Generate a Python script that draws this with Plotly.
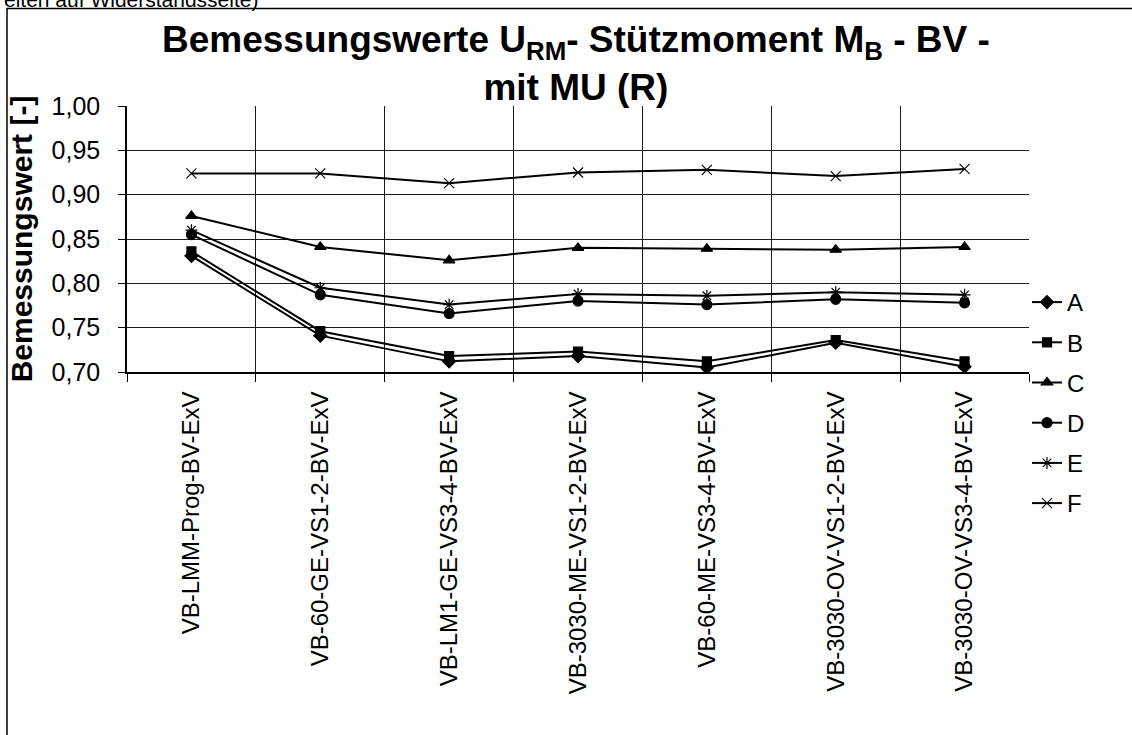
import plotly.graph_objects as go

# Load cases (x-axis categories)
categories = [
    "VB-LMM-Prog-BV-ExV",
    "VB-60-GE-VS1-2-BV-ExV",
    "VB-LM1-GE-VS3-4-BV-ExV",
    "VB-3030-ME-VS1-2-BV-ExV",
    "VB-60-ME-VS3-4-BV-ExV",
    "VB-3030-OV-VS1-2-BV-ExV",
    "VB-3030-OV-VS3-4-BV-ExV",
]

# Design values per series
series_A = [0.831, 0.741, 0.712, 0.718, 0.705, 0.733, 0.706]
series_B = [0.836, 0.746, 0.718, 0.723, 0.712, 0.736, 0.712]
series_C = [0.876, 0.841, 0.826, 0.840, 0.839, 0.838, 0.841]
series_D = [0.855, 0.787, 0.766, 0.780, 0.776, 0.782, 0.778]
series_E = [0.860, 0.795, 0.776, 0.788, 0.786, 0.790, 0.787]
series_F = [0.924, 0.924, 0.913, 0.925, 0.928, 0.921, 0.929]

series_names = ["A", "B", "C", "D", "E", "F"]
series_values = [series_A, series_B, series_C, series_D, series_E, series_F]
series_symbols = ["diamond", "square", "triangle-up", "circle", "asterisk-open", "x-thin-open"]
series_sizes = [10, 9, 10, 10, 10, 10]

y_ticks = [0.70, 0.75, 0.80, 0.85, 0.90, 0.95, 1.00]

fig = go.Figure()
for name, vals, sym, sz in zip(series_names, series_values, series_symbols, series_sizes):
    fig.add_trace(go.Scatter(
        x=categories, y=vals, name=name, mode="lines+markers",
        legendgroup=name,
        line=dict(color="black", width=2),
        marker=dict(symbol=sym, size=sz, color="black",
                    line=dict(color="black", width=1.2)),
    ))

W, H = 1132, 735
L, R, T, B = 127, 1029, 106, 372
pw, ph = R - L, B - T


def px_x(x):
    return (x - L) / pw


def px_y(y):
    return (B - y) / ph


fig.update_layout(
    width=W, height=H,
    margin=dict(l=L, r=W - R, t=T, b=H - B),
    paper_bgcolor="white", plot_bgcolor="white",
    separators=",.",
    font=dict(family="Arial, Liberation Sans, sans-serif", color="black"),
    xaxis=dict(
        type="category", range=[-0.5, 6.5],
        tickson="boundaries", ticks="outside", ticklen=8, tickcolor="black", tickwidth=1,
        tickangle=-90, tickfont=dict(size=24), ticklabelstandoff=8,
        showgrid=True, gridcolor="#1a1a1a", gridwidth=1,
        showline=True, linecolor="black", linewidth=2,
    ),
    yaxis=dict(
        range=[0.70, 1.00], tickvals=y_ticks, tickformat=".2f",
        ticks="outside", ticklen=7, tickcolor="black", tickwidth=1,
        tickfont=dict(size=25), ticklabelstandoff=13,
        showgrid=True, gridcolor="#1a1a1a", gridwidth=1,
        showline=True, linecolor="black", linewidth=1.5,
        title=dict(text="<b>Bemessungswert [-]</b>", font=dict(size=30), standoff=10),
    ),
    legend=dict(
        x=px_x(1027), y=px_y(280), xanchor="left", yanchor="top",
        font=dict(size=24), tracegroupgap=6, itemwidth=30,
        bgcolor="rgba(0,0,0,0)",
    ),
    showlegend=True,
)

# Chart title
fig.add_annotation(
    text="<b>Bemessungswerte U<sub>RM</sub>- Stützmoment M<sub>B</sub> - BV -<br>mit MU (R)</b>",
    xref="paper", yref="paper", x=px_x(576), y=px_y(17),
    xanchor="center", yanchor="top", showarrow=False,
    font=dict(size=37, color="black"),
)

# Frame around the chart area
fig.add_shape(type="rect", xref="paper", yref="paper",
              x0=px_x(7), x1=px_x(1200), y0=px_y(800), y1=px_y(8.5),
              line=dict(color="black", width=1.5), fillcolor="rgba(0,0,0,0)", layer="below")

# Caption line above the frame
fig.add_annotation(text="eiten auf Widerstandsseite)", xref="paper", yref="paper",
                   x=px_x(2), y=px_y(13), xanchor="left", yanchor="bottom",
                   showarrow=False, font=dict(size=21, color="black"))

fig.write_html("out.html")
